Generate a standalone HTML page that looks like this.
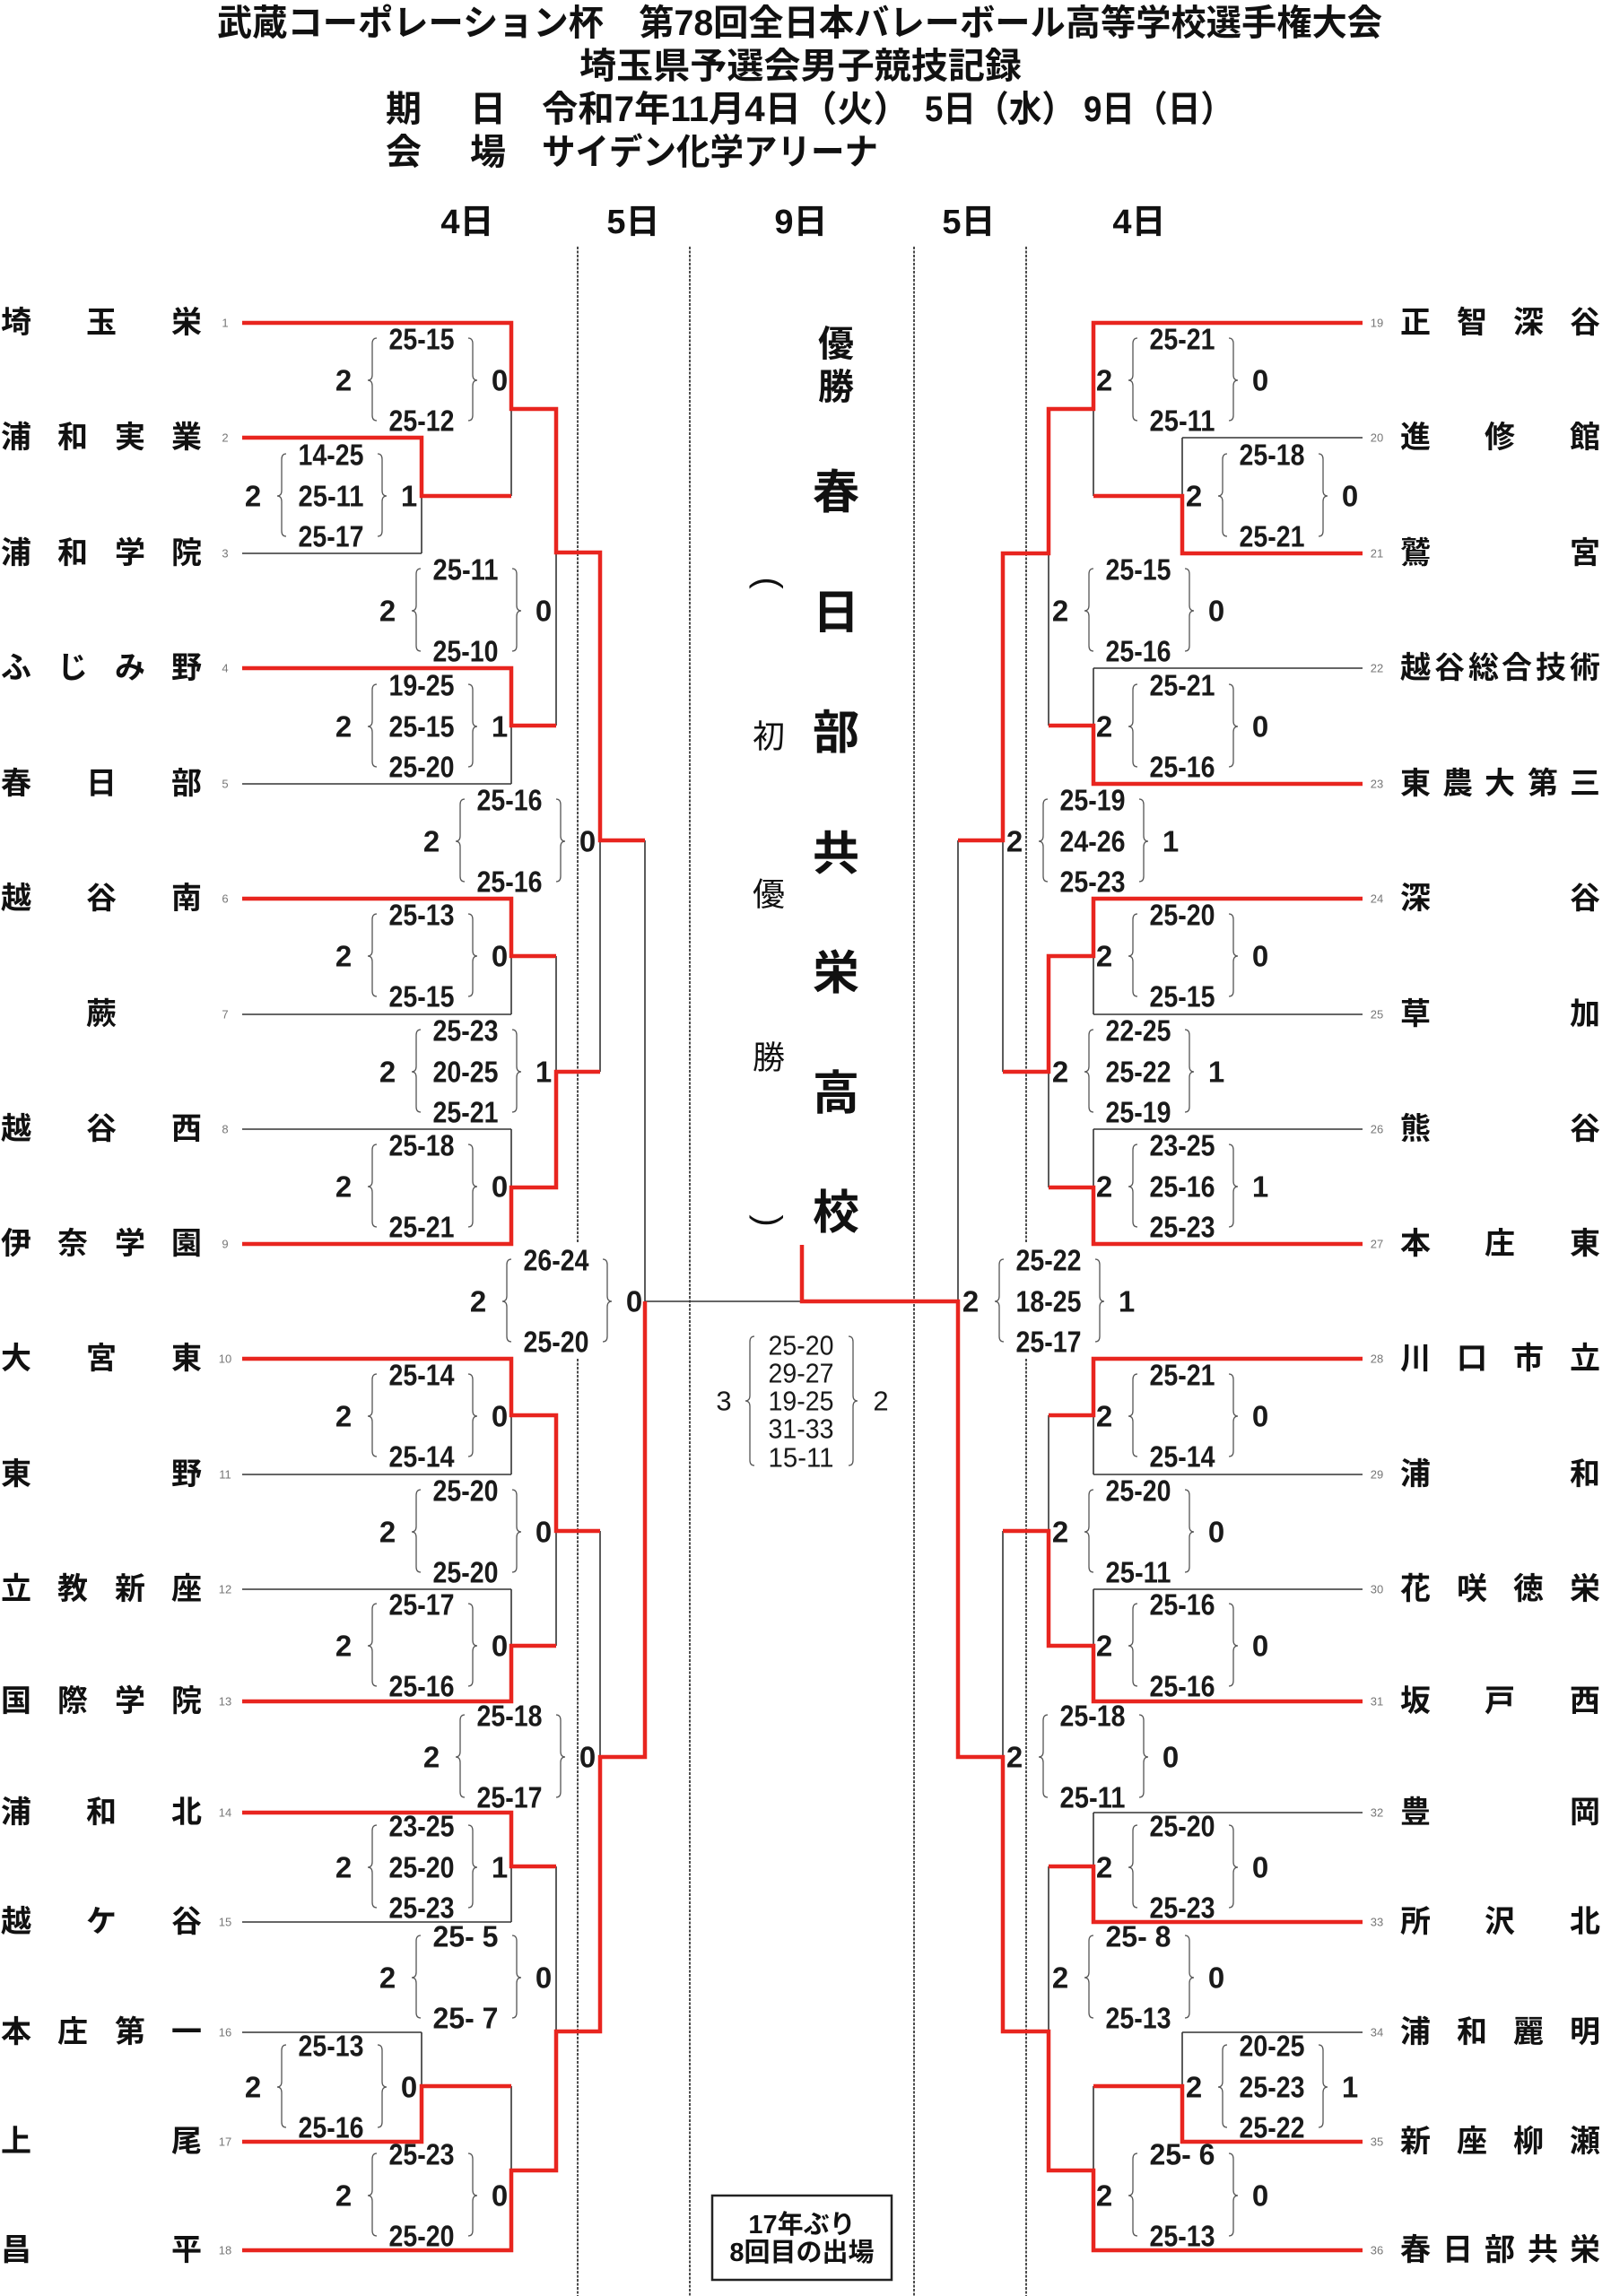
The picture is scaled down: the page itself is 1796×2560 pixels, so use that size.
<!DOCTYPE html>
<html><head><meta charset="utf-8">
<style>
html,body{margin:0;padding:0;background:#fff}
svg{display:block}
.hd{font-family:"Liberation Sans","Noto Sans CJK JP",sans-serif;font-weight:bold;font-size:40px;fill:#111;dominant-baseline:central}
.dy{font-family:"Liberation Sans","Noto Sans CJK JP",sans-serif;font-weight:bold;font-size:38px;fill:#111;dominant-baseline:central;text-anchor:middle}
.nm{font-family:"Liberation Sans","Noto Sans CJK JP",sans-serif;font-weight:bold;font-size:34px;fill:#111;dominant-baseline:central;text-anchor:middle}
.num{font-family:"Liberation Sans",sans-serif;font-size:13px;fill:#777;dominant-baseline:central;text-anchor:middle}
.s text{font-family:"Liberation Sans",sans-serif;font-weight:bold;font-size:33px;fill:#1a1a1a;dominant-baseline:central;text-anchor:middle}
.f text{font-family:"Liberation Sans",sans-serif;font-weight:normal;font-size:31px;fill:#1a1a1a;dominant-baseline:central;text-anchor:middle}
.c1{font-family:"Liberation Sans","Noto Sans CJK JP",sans-serif;font-weight:bold;font-size:40px;fill:#111;dominant-baseline:central;text-anchor:middle}
.c2{font-family:"Liberation Sans","Noto Sans CJK JP",sans-serif;font-weight:bold;font-size:52px;fill:#111;dominant-baseline:central;text-anchor:middle}
.c3{font-family:"Liberation Sans","Noto Sans CJK JP",sans-serif;font-weight:normal;font-size:36px;fill:#111;dominant-baseline:central;text-anchor:middle}
.cp{font-family:"Liberation Sans",sans-serif;font-weight:normal;font-size:40px;fill:#111;dominant-baseline:central;text-anchor:middle}
.bx{font-family:"Liberation Sans","Noto Sans CJK JP",sans-serif;font-weight:bold;font-size:29px;fill:#111;dominant-baseline:central;text-anchor:middle}
</style></head>
<body>
<svg xmlns="http://www.w3.org/2000/svg" width="1796" height="2560" viewBox="0 0 1796 2560">
<defs>
<path id="bl" d="M5,-47 Q0,-47 0,-41 V-6 Q0,0 -5,0 Q0,0 0,6 V39 Q0,45 5,45" fill="none" stroke="#555" stroke-width="1.3"/>
<path id="br" d="M-5,-47 Q0,-47 0,-41 V-6 Q0,0 5,0 Q0,0 0,6 V39 Q0,45 -5,45" fill="none" stroke="#555" stroke-width="1.3"/>
<path id="bl5" d="M5,-72 Q0,-72 0,-66 V-6 Q0,0 -5,0 Q0,0 0,6 V66 Q0,72 5,72" fill="none" stroke="#555" stroke-width="1.3"/>
<path id="br5" d="M-5,-72 Q0,-72 0,-66 V-6 Q0,0 5,0 Q0,0 0,6 V66 Q0,72 -5,72" fill="none" stroke="#555" stroke-width="1.3"/>
</defs>
<rect width="1796" height="2560" fill="#fff"/>

<!-- Header -->
<text class="hd" x="242" y="26" textLength="1299" lengthAdjust="spacingAndGlyphs">武蔵コーポレーション杯　第78回全日本バレーボール高等学校選手権大会</text>
<text class="hd" x="646" y="74" textLength="493" lengthAdjust="spacingAndGlyphs">埼玉県予選会男子競技記録</text>
<text class="hd" x="450" y="122" text-anchor="middle">期</text>
<text class="hd" x="544" y="122" text-anchor="middle">日</text>
<text class="hd" x="604" y="122" textLength="410" lengthAdjust="spacingAndGlyphs">令和7年11月4日（火）</text>
<text class="hd" x="1031" y="122" textLength="167" lengthAdjust="spacingAndGlyphs">5日（水）</text>
<text class="hd" x="1208" y="122" textLength="167" lengthAdjust="spacingAndGlyphs">9日（日）</text>
<text class="hd" x="450" y="170" text-anchor="middle">会</text>
<text class="hd" x="544" y="170" text-anchor="middle">場</text>
<text class="hd" x="604" y="170" textLength="375" lengthAdjust="spacingAndGlyphs">サイデン化学アリーナ</text>

<text class="dy" x="521" y="248">4日</text>
<text class="dy" x="706" y="248">5日</text>
<text class="dy" x="893" y="248">9日</text>
<text class="dy" x="1080" y="248">5日</text>
<text class="dy" x="1270" y="248">4日</text>

<!-- dashed dividers -->
<g stroke="#111" stroke-width="1.5" stroke-dasharray="3 1.5" fill="none">
<path d="M644,275V1385 M644,1515V2560 M769,275V2560 M1019,275V2560 M1144,275V1385 M1144,1515V2560"/>
</g>

<!-- black (losing) lines -->
<path fill="none" stroke="#333" stroke-width="1.6" d="M270,617H470 M270,874H570 M270,1131H570 M270,1259H570 M270,1644H570 M270,1772H570 M270,2143H570 M270,2266H470
M470,553V617 M570,456V553 M570,809V874 M620,616V809 M570,1066V1131 M570,1259V1324 M620,1066V1195 M669,937V1195 M570,1578V1644 M570,1772V1835 M620,1707V1835 M570,2081V2143 M470,2266V2326 M570,2326V2420 M620,2081V2265 M669,1707V1959 M719,937V1451 M719,1451H894
M1519,488H1318 M1519,745H1219 M1519,1131H1219 M1519,1259H1219 M1519,1644H1219 M1519,1772H1219 M1519,2021H1219 M1519,2266H1318
M1318,488V553 M1219,456V553 M1219,745V809 M1169,617V809 M1219,1066V1131 M1219,1259V1324 M1169,1195V1324 M1118,937V1195 M1219,1578V1644 M1219,1772V1835 M1169,1578V1707 M1219,2021V2081 M1318,2266V2326 M1219,2326V2420 M1169,2081V2265 M1118,1707V1959 M1068,937V1451"/>

<!-- red (winning) lines -->
<g fill="none" stroke="#e8251f" stroke-width="4.5" stroke-linejoin="miter" stroke-linecap="butt">
<path d="M270,360H570V456H620V616H669V937H719"/>
<path d="M270,488H470V553H570"/>
<path d="M270,745H570V809H620"/>
<path d="M270,1002H570V1066H620"/>
<path d="M270,1387H570V1324H620V1195H669"/>
<path d="M270,1515H570V1578H620V1707H669"/>
<path d="M270,1897H570V1835H620"/>
<path d="M270,2021H570V2081H620"/>
<path d="M270,2388H470V2326H570"/>
<path d="M270,2509H570V2420H620V2265H669V1959H719V1451"/>
<path d="M1519,360H1219V456H1169V617H1118V937H1068"/>
<path d="M1519,617H1318V553H1219"/>
<path d="M1519,874H1219V809H1169"/>
<path d="M1519,1002H1219V1066H1169V1195H1118"/>
<path d="M1519,1387H1219V1324H1169"/>
<path d="M1519,1515H1219V1578H1169"/>
<path d="M1519,1897H1219V1835H1169V1707H1118"/>
<path d="M1519,2143H1219V2081H1169"/>
<path d="M1519,2388H1318V2326H1219"/>
<path d="M1519,2509H1219V2420H1169V2265H1118V1959H1068V1451H894V1388"/>
</g>

<!-- Left team names -->
<text class="nm" x="18 113 208" y="360">埼玉栄</text>
<text class="nm" x="18 81 145 208" y="488">浦和実業</text>
<text class="nm" x="18 81 145 208" y="617">浦和学院</text>
<text class="nm" x="18 81 145 208" y="745">ふじみ野</text>
<text class="nm" x="18 113 208" y="874">春日部</text>
<text class="nm" x="18 113 208" y="1002">越谷南</text>
<text class="nm" x="113" y="1131">蕨</text>
<text class="nm" x="18 113 208" y="1259">越谷西</text>
<text class="nm" x="18 81 145 208" y="1387">伊奈学園</text>
<text class="nm" x="18 113 208" y="1515">大宮東</text>
<text class="nm" x="18 208" y="1644">東野</text>
<text class="nm" x="18 81 145 208" y="1772">立教新座</text>
<text class="nm" x="18 81 145 208" y="1897">国際学院</text>
<text class="nm" x="18 113 208" y="2021">浦和北</text>
<text class="nm" x="18 113 208" y="2143">越ケ谷</text>
<text class="nm" x="18 81 145 208" y="2266">本庄第一</text>
<text class="nm" x="18 208" y="2388">上尾</text>
<text class="nm" x="18 208" y="2509">昌平</text>

<!-- Right team names -->
<text class="nm" x="1578 1641 1704 1767" y="360">正智深谷</text>
<text class="nm" x="1578 1672 1767" y="488">進修館</text>
<text class="nm" x="1578 1767" y="617">鷲宮</text>
<text class="nm" x="1578 1616 1654 1691 1729 1767" y="745">越谷総合技術</text>
<text class="nm" x="1578 1625 1672 1720 1767" y="874">東農大第三</text>
<text class="nm" x="1578 1767" y="1002">深谷</text>
<text class="nm" x="1578 1767" y="1131">草加</text>
<text class="nm" x="1578 1767" y="1259">熊谷</text>
<text class="nm" x="1578 1672 1767" y="1387">本庄東</text>
<text class="nm" x="1578 1641 1704 1767" y="1515">川口市立</text>
<text class="nm" x="1578 1767" y="1644">浦和</text>
<text class="nm" x="1578 1641 1704 1767" y="1772">花咲徳栄</text>
<text class="nm" x="1578 1672 1767" y="1897">坂戸西</text>
<text class="nm" x="1578 1767" y="2021">豊岡</text>
<text class="nm" x="1578 1672 1767" y="2143">所沢北</text>
<text class="nm" x="1578 1641 1704 1767" y="2266">浦和麗明</text>
<text class="nm" x="1578 1641 1704 1767" y="2388">新座柳瀬</text>
<text class="nm" x="1578 1625 1672 1720 1767" y="2509">春日部共栄</text>

<!-- seed numbers -->
<g class="num">
<text x="251" y="360">1</text><text x="251" y="488">2</text><text x="251" y="617">3</text><text x="251" y="745">4</text><text x="251" y="874">5</text><text x="251" y="1002">6</text><text x="251" y="1131">7</text><text x="251" y="1259">8</text><text x="251" y="1387">9</text><text x="251" y="1515">10</text><text x="251" y="1644">11</text><text x="251" y="1772">12</text><text x="251" y="1897">13</text><text x="251" y="2021">14</text><text x="251" y="2143">15</text><text x="251" y="2266">16</text><text x="251" y="2388">17</text><text x="251" y="2509">18</text>
<text x="1535" y="360">19</text><text x="1535" y="488">20</text><text x="1535" y="617">21</text><text x="1535" y="745">22</text><text x="1535" y="874">23</text><text x="1535" y="1002">24</text><text x="1535" y="1131">25</text><text x="1535" y="1259">26</text><text x="1535" y="1387">27</text><text x="1535" y="1515">28</text><text x="1535" y="1644">29</text><text x="1535" y="1772">30</text><text x="1535" y="1897">31</text><text x="1535" y="2021">32</text><text x="1535" y="2143">33</text><text x="1535" y="2266">34</text><text x="1535" y="2388">35</text><text x="1535" y="2509">36</text>
</g>

<!-- Left score blocks -->
<g class="s" transform="translate(470,424)"><use href="#bl" x="-55"/><use href="#br" x="57"/><text x="-87">2</text><text x="87">0</text><text y="-46" textLength="73" lengthAdjust="spacingAndGlyphs">25-15</text><text y="45" textLength="73" lengthAdjust="spacingAndGlyphs">25-12</text></g>
<g class="s" transform="translate(369,553)"><use href="#bl" x="-55"/><use href="#br" x="57"/><text x="-87">2</text><text x="87">1</text><text y="-46" textLength="73" lengthAdjust="spacingAndGlyphs">14-25</text><text y="0" textLength="73" lengthAdjust="spacingAndGlyphs">25-11</text><text y="45" textLength="73" lengthAdjust="spacingAndGlyphs">25-17</text></g>
<g class="s" transform="translate(519,681)"><use href="#bl" x="-55"/><use href="#br" x="57"/><text x="-87">2</text><text x="87">0</text><text y="-46" textLength="73" lengthAdjust="spacingAndGlyphs">25-11</text><text y="45" textLength="73" lengthAdjust="spacingAndGlyphs">25-10</text></g>
<g class="s" transform="translate(470,810)"><use href="#bl" x="-55"/><use href="#br" x="57"/><text x="-87">2</text><text x="87">1</text><text y="-46" textLength="73" lengthAdjust="spacingAndGlyphs">19-25</text><text y="0" textLength="73" lengthAdjust="spacingAndGlyphs">25-15</text><text y="45" textLength="73" lengthAdjust="spacingAndGlyphs">25-20</text></g>
<g class="s" transform="translate(568,938)"><use href="#bl" x="-55"/><use href="#br" x="57"/><text x="-87">2</text><text x="87">0</text><text y="-46" textLength="73" lengthAdjust="spacingAndGlyphs">25-16</text><text y="45" textLength="73" lengthAdjust="spacingAndGlyphs">25-16</text></g>
<g class="s" transform="translate(470,1066)"><use href="#bl" x="-55"/><use href="#br" x="57"/><text x="-87">2</text><text x="87">0</text><text y="-46" textLength="73" lengthAdjust="spacingAndGlyphs">25-13</text><text y="45" textLength="73" lengthAdjust="spacingAndGlyphs">25-15</text></g>
<g class="s" transform="translate(519,1195)"><use href="#bl" x="-55"/><use href="#br" x="57"/><text x="-87">2</text><text x="87">1</text><text y="-46" textLength="73" lengthAdjust="spacingAndGlyphs">25-23</text><text y="0" textLength="73" lengthAdjust="spacingAndGlyphs">20-25</text><text y="45" textLength="73" lengthAdjust="spacingAndGlyphs">25-21</text></g>
<g class="s" transform="translate(470,1323)"><use href="#bl" x="-55"/><use href="#br" x="57"/><text x="-87">2</text><text x="87">0</text><text y="-46" textLength="73" lengthAdjust="spacingAndGlyphs">25-18</text><text y="45" textLength="73" lengthAdjust="spacingAndGlyphs">25-21</text></g>
<g class="s" transform="translate(620,1451)"><use href="#bl" x="-55"/><use href="#br" x="57"/><text x="-87">2</text><text x="87">0</text><text y="-46" textLength="73" lengthAdjust="spacingAndGlyphs">26-24</text><text y="45" textLength="73" lengthAdjust="spacingAndGlyphs">25-20</text></g>
<g class="s" transform="translate(470,1579)"><use href="#bl" x="-55"/><use href="#br" x="57"/><text x="-87">2</text><text x="87">0</text><text y="-46" textLength="73" lengthAdjust="spacingAndGlyphs">25-14</text><text y="45" textLength="73" lengthAdjust="spacingAndGlyphs">25-14</text></g>
<g class="s" transform="translate(519,1708)"><use href="#bl" x="-55"/><use href="#br" x="57"/><text x="-87">2</text><text x="87">0</text><text y="-46" textLength="73" lengthAdjust="spacingAndGlyphs">25-20</text><text y="45" textLength="73" lengthAdjust="spacingAndGlyphs">25-20</text></g>
<g class="s" transform="translate(470,1835)"><use href="#bl" x="-55"/><use href="#br" x="57"/><text x="-87">2</text><text x="87">0</text><text y="-46" textLength="73" lengthAdjust="spacingAndGlyphs">25-17</text><text y="45" textLength="73" lengthAdjust="spacingAndGlyphs">25-16</text></g>
<g class="s" transform="translate(568,1959)"><use href="#bl" x="-55"/><use href="#br" x="57"/><text x="-87">2</text><text x="87">0</text><text y="-46" textLength="73" lengthAdjust="spacingAndGlyphs">25-18</text><text y="45" textLength="73" lengthAdjust="spacingAndGlyphs">25-17</text></g>
<g class="s" transform="translate(470,2082)"><use href="#bl" x="-55"/><use href="#br" x="57"/><text x="-87">2</text><text x="87">1</text><text y="-46" textLength="73" lengthAdjust="spacingAndGlyphs">23-25</text><text y="0" textLength="73" lengthAdjust="spacingAndGlyphs">25-20</text><text y="45" textLength="73" lengthAdjust="spacingAndGlyphs">25-23</text></g>
<g class="s" transform="translate(519,2205)"><use href="#bl" x="-55"/><use href="#br" x="57"/><text x="-87">2</text><text x="87">0</text><text y="-46" textLength="73" lengthAdjust="spacingAndGlyphs">25- 5</text><text y="45" textLength="73" lengthAdjust="spacingAndGlyphs">25- 7</text></g>
<g class="s" transform="translate(369,2327)"><use href="#bl" x="-55"/><use href="#br" x="57"/><text x="-87">2</text><text x="87">0</text><text y="-46" textLength="73" lengthAdjust="spacingAndGlyphs">25-13</text><text y="45" textLength="73" lengthAdjust="spacingAndGlyphs">25-16</text></g>
<g class="s" transform="translate(470,2448)"><use href="#bl" x="-55"/><use href="#br" x="57"/><text x="-87">2</text><text x="87">0</text><text y="-46" textLength="73" lengthAdjust="spacingAndGlyphs">25-23</text><text y="45" textLength="73" lengthAdjust="spacingAndGlyphs">25-20</text></g>

<!-- Right score blocks -->
<g class="s" transform="translate(1318,424)"><use href="#bl" x="-55"/><use href="#br" x="57"/><text x="-87">2</text><text x="87">0</text><text y="-46" textLength="73" lengthAdjust="spacingAndGlyphs">25-21</text><text y="45" textLength="73" lengthAdjust="spacingAndGlyphs">25-11</text></g>
<g class="s" transform="translate(1418,553)"><use href="#bl" x="-55"/><use href="#br" x="57"/><text x="-87">2</text><text x="87">0</text><text y="-46" textLength="73" lengthAdjust="spacingAndGlyphs">25-18</text><text y="45" textLength="73" lengthAdjust="spacingAndGlyphs">25-21</text></g>
<g class="s" transform="translate(1269,681)"><use href="#bl" x="-55"/><use href="#br" x="57"/><text x="-87">2</text><text x="87">0</text><text y="-46" textLength="73" lengthAdjust="spacingAndGlyphs">25-15</text><text y="45" textLength="73" lengthAdjust="spacingAndGlyphs">25-16</text></g>
<g class="s" transform="translate(1318,810)"><use href="#bl" x="-55"/><use href="#br" x="57"/><text x="-87">2</text><text x="87">0</text><text y="-46" textLength="73" lengthAdjust="spacingAndGlyphs">25-21</text><text y="45" textLength="73" lengthAdjust="spacingAndGlyphs">25-16</text></g>
<g class="s" transform="translate(1218,938)"><use href="#bl" x="-55"/><use href="#br" x="57"/><text x="-87">2</text><text x="87">1</text><text y="-46" textLength="73" lengthAdjust="spacingAndGlyphs">25-19</text><text y="0" textLength="73" lengthAdjust="spacingAndGlyphs">24-26</text><text y="45" textLength="73" lengthAdjust="spacingAndGlyphs">25-23</text></g>
<g class="s" transform="translate(1318,1066)"><use href="#bl" x="-55"/><use href="#br" x="57"/><text x="-87">2</text><text x="87">0</text><text y="-46" textLength="73" lengthAdjust="spacingAndGlyphs">25-20</text><text y="45" textLength="73" lengthAdjust="spacingAndGlyphs">25-15</text></g>
<g class="s" transform="translate(1269,1195)"><use href="#bl" x="-55"/><use href="#br" x="57"/><text x="-87">2</text><text x="87">1</text><text y="-46" textLength="73" lengthAdjust="spacingAndGlyphs">22-25</text><text y="0" textLength="73" lengthAdjust="spacingAndGlyphs">25-22</text><text y="45" textLength="73" lengthAdjust="spacingAndGlyphs">25-19</text></g>
<g class="s" transform="translate(1318,1323)"><use href="#bl" x="-55"/><use href="#br" x="57"/><text x="-87">2</text><text x="87">1</text><text y="-46" textLength="73" lengthAdjust="spacingAndGlyphs">23-25</text><text y="0" textLength="73" lengthAdjust="spacingAndGlyphs">25-16</text><text y="45" textLength="73" lengthAdjust="spacingAndGlyphs">25-23</text></g>
<g class="s" transform="translate(1169,1451)"><use href="#bl" x="-55"/><use href="#br" x="57"/><text x="-87">2</text><text x="87">1</text><text y="-46" textLength="73" lengthAdjust="spacingAndGlyphs">25-22</text><text y="0" textLength="73" lengthAdjust="spacingAndGlyphs">18-25</text><text y="45" textLength="73" lengthAdjust="spacingAndGlyphs">25-17</text></g>
<g class="s" transform="translate(1318,1579)"><use href="#bl" x="-55"/><use href="#br" x="57"/><text x="-87">2</text><text x="87">0</text><text y="-46" textLength="73" lengthAdjust="spacingAndGlyphs">25-21</text><text y="45" textLength="73" lengthAdjust="spacingAndGlyphs">25-14</text></g>
<g class="s" transform="translate(1269,1708)"><use href="#bl" x="-55"/><use href="#br" x="57"/><text x="-87">2</text><text x="87">0</text><text y="-46" textLength="73" lengthAdjust="spacingAndGlyphs">25-20</text><text y="45" textLength="73" lengthAdjust="spacingAndGlyphs">25-11</text></g>
<g class="s" transform="translate(1318,1835)"><use href="#bl" x="-55"/><use href="#br" x="57"/><text x="-87">2</text><text x="87">0</text><text y="-46" textLength="73" lengthAdjust="spacingAndGlyphs">25-16</text><text y="45" textLength="73" lengthAdjust="spacingAndGlyphs">25-16</text></g>
<g class="s" transform="translate(1218,1959)"><use href="#bl" x="-55"/><use href="#br" x="57"/><text x="-87">2</text><text x="87">0</text><text y="-46" textLength="73" lengthAdjust="spacingAndGlyphs">25-18</text><text y="45" textLength="73" lengthAdjust="spacingAndGlyphs">25-11</text></g>
<g class="s" transform="translate(1318,2082)"><use href="#bl" x="-55"/><use href="#br" x="57"/><text x="-87">2</text><text x="87">0</text><text y="-46" textLength="73" lengthAdjust="spacingAndGlyphs">25-20</text><text y="45" textLength="73" lengthAdjust="spacingAndGlyphs">25-23</text></g>
<g class="s" transform="translate(1269,2205)"><use href="#bl" x="-55"/><use href="#br" x="57"/><text x="-87">2</text><text x="87">0</text><text y="-46" textLength="73" lengthAdjust="spacingAndGlyphs">25- 8</text><text y="45" textLength="73" lengthAdjust="spacingAndGlyphs">25-13</text></g>
<g class="s" transform="translate(1418,2327)"><use href="#bl" x="-55"/><use href="#br" x="57"/><text x="-87">2</text><text x="87">1</text><text y="-46" textLength="73" lengthAdjust="spacingAndGlyphs">20-25</text><text y="0" textLength="73" lengthAdjust="spacingAndGlyphs">25-23</text><text y="45" textLength="73" lengthAdjust="spacingAndGlyphs">25-22</text></g>
<g class="s" transform="translate(1318,2448)"><use href="#bl" x="-55"/><use href="#br" x="57"/><text x="-87">2</text><text x="87">0</text><text y="-46" textLength="73" lengthAdjust="spacingAndGlyphs">25- 6</text><text y="45" textLength="73" lengthAdjust="spacingAndGlyphs">25-13</text></g>

<!-- Final score -->
<g class="f" transform="translate(893,1562)"><use href="#bl5" x="-57"/><use href="#br5" x="58"/><text x="-86">3</text><text x="89">2</text>
<text y="-62" textLength="73" lengthAdjust="spacingAndGlyphs">25-20</text>
<text y="-31" textLength="73" lengthAdjust="spacingAndGlyphs">29-27</text>
<text y="0" textLength="73" lengthAdjust="spacingAndGlyphs">19-25</text>
<text y="31" textLength="73" lengthAdjust="spacingAndGlyphs">31-33</text>
<text y="63" textLength="73" lengthAdjust="spacingAndGlyphs">15-11</text></g>

<!-- Center column -->
<text class="c1" x="932 932" y="384 432">優勝</text>
<text class="c2" x="932 932 932 932 932 932 932" y="550 684 818 953 1086 1220 1353">春日部共栄高校</text>
<text class="cp" transform="translate(857,650) rotate(90)">(</text>
<text class="c3" x="857 857 857" y="821 997 1179">初優勝</text>
<text class="cp" transform="translate(857,1361) rotate(90)">)</text>

<!-- Box -->
<rect x="794" y="2448" width="200" height="94" fill="none" stroke="#222" stroke-width="2.5"/>
<text class="bx" x="894" y="2481">17年ぶり</text>
<text class="bx" x="894" y="2512">8回目の出場</text>
</svg>
</body></html>
